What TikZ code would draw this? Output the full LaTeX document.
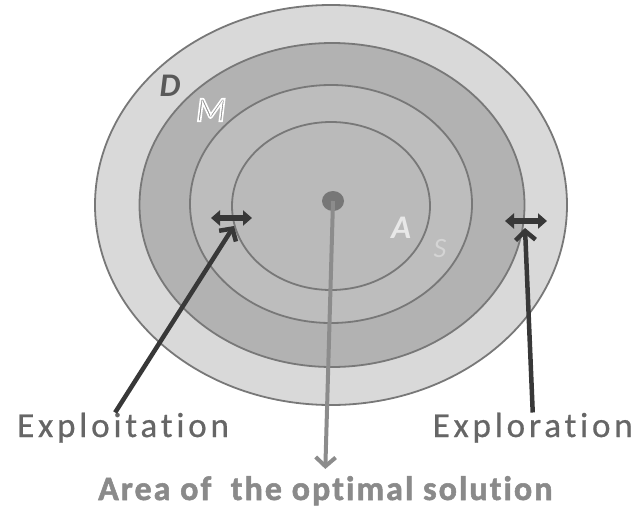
\documentclass[tikz,border=0pt]{standalone}
\usepackage{fontspec}
\setmainfont{Carlito}
\newfontfamily\labfont[LetterSpace=11,Ligatures=NoCommon,FakeBold=0.6]{Carlito}
\newfontfamily\areafont[LetterSpace=6,Ligatures=NoCommon,FakeBold=1.6]{Carlito Bold}
\usetikzlibrary{shapes.geometric,arrows.meta}
\definecolor{bandD}{HTML}{D9D9D9}
\definecolor{bandM}{HTML}{B2B2B2}
\definecolor{bandS}{HTML}{BDBDBD}
\definecolor{bandA}{HTML}{BABABA}
\definecolor{ringline}{HTML}{787878}
\definecolor{dotc}{HTML}{777777}
\definecolor{arrowdark}{HTML}{383838}
\definecolor{arrowgrey}{HTML}{8C8C8C}
\definecolor{labgrey}{HTML}{666666}
\definecolor{areagrey}{HTML}{8A8A8A}
\newcommand\outlinedtext[1]{\special{pdf:literal direct 2 Tr 1.6 w 1 1 1 RG}#1\special{pdf:literal direct 0 Tr}}
\begin{document}
\begin{tikzpicture}[x=1pt,y=-1pt,
  ring/.style={ellipse, draw=ringline, line width=1.8pt, inner sep=0pt},
  darkarrow/.style={draw=arrowdark, line width=4.5pt, -{Straight Barb[length=9pt,width=20pt]}},
  greyarrow/.style={draw=arrowgrey, line width=4pt, -{Straight Barb[length=9pt,width=20pt]}},
  twoway/.style={draw=arrowdark, line width=5.5pt, {Triangle[length=9pt,width=15pt]}-{Triangle[length=9pt,width=15pt]}},
  bigtext/.style={inner sep=0pt, text=labgrey, font=\labfont\fontsize{35}{40}\selectfont},
  areatext/.style={inner sep=0pt, text=areagrey, font=\areafont\fontsize{34}{40}\selectfont},
  letter/.style={inner sep=0pt, font=\bfseries\itshape\fontsize{33}{36}\selectfont}]
\useasboundingbox (0,0) rectangle (636,514);
% rings
\node[ring, fill=bandD, minimum width=472pt, minimum height=400pt] (D) at (331,205) {};
\node[ring, fill=bandM, minimum width=385pt, minimum height=324pt] (M) at (332,205) {};
\node[ring, fill=bandS, minimum width=282pt, minimum height=238pt] (S) at (331,204) {};
\node[ring, fill=bandA, minimum width=198pt, minimum height=168pt] (A) at (331,206) {};
\node[ellipse, fill=dotc, inner sep=0pt, minimum width=22pt, minimum height=20pt] (dot) at (333,201) {};
% letters
\node[letter, text=black!65] (Dlab) at (170,86) {D};
\node[letter, font=\itshape\fontsize{35}{38}\selectfont, text=black!45] (Mlab) at (211,110) {\outlinedtext{M}};
\node[letter, text=black!9] (Alab) at (401,228) {A};
\node[letter, font=\itshape\fontsize{28}{30}\selectfont, text=black!17] (Slab) at (440,249) {S};
% texts
\node[bigtext, anchor=base west] (exploit) at (17,437) {Exploitation};
\node[bigtext, anchor=base east] (explore) at (633,437) {Exploration};
\node[areatext, anchor=base west] (area) at (98,500) {Area of \ the optimal solution};
% two-way arrows
\coordinate (exL1) at (211,218);
\coordinate (exL2) at (252,218);
\coordinate (exR1) at (505,221);
\coordinate (exR2) at (547,221);
\draw[twoway] (exL1) -- (exL2);
\draw[twoway] (exR1) -- (exR2);
% pointers
\coordinate (exploitTip) at (234,226);
\coordinate (exploreTip) at (525,228);
\draw[darkarrow] ([xshift=-8pt]exploit.north) -- (exploitTip);
\draw[darkarrow] (explore.north) -- (exploreTip);
\draw[greyarrow] (dot.center) -- ([yshift=7pt]area.north);
\end{tikzpicture}
\end{document}
